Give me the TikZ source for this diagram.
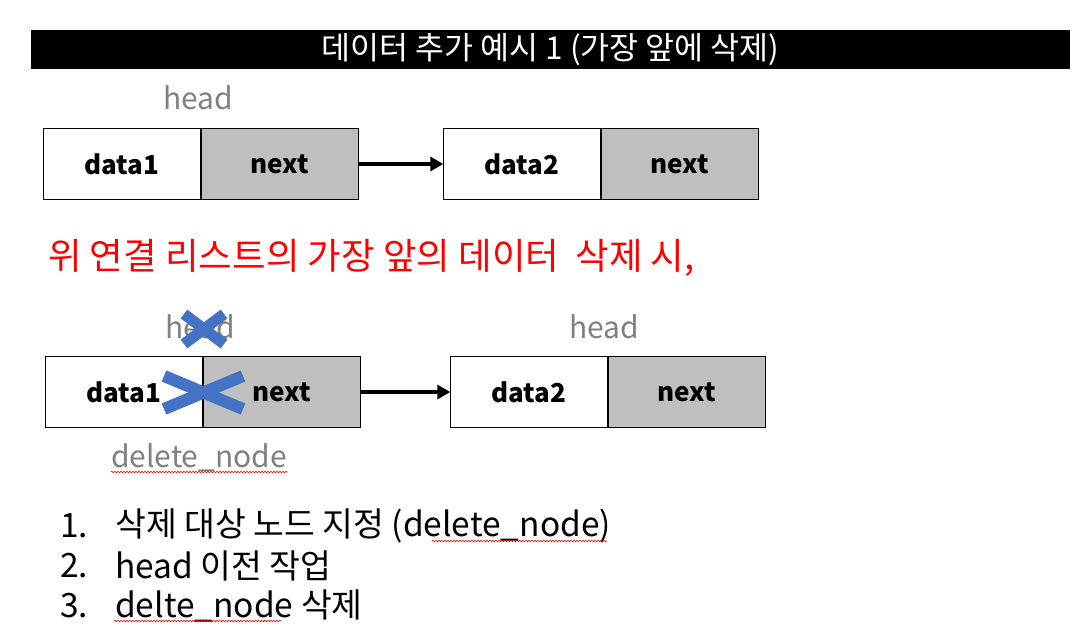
\documentclass[tikz,border=0pt]{standalone}
\usepackage{fontspec}
\setmainfont{Noto Sans CJK KR}
\usetikzlibrary{positioning,arrows.meta,decorations.pathmorphing}
\definecolor{cellgray}{HTML}{BFBFBF}
\definecolor{labelgray}{HTML}{808080}
\definecolor{crossblue}{HTML}{4472C4}

\begin{document}
\begin{tikzpicture}[x=1pt,y=-1pt,
    datacell/.style={draw,thin,fill=white,minimum width=157pt,minimum height=71pt,font=\fontsize{26}{30}\selectfont\bfseries},
    nextcell/.style={datacell,fill=cellgray},
    ptr/.style={line width=3.5pt,-{Triangle[length=13pt,width=14pt]}},
    tag/.style={text=labelgray,font=\fontsize{30}{34}\selectfont},
    cross/.style={crossblue,line width=#1},
    squiggle/.style={red,line width=0.6pt,decorate,decoration={snake,amplitude=0.8pt,segment length=3pt}},
    step item/.style={anchor=west,inner sep=0pt,font=\fontsize{33.5}{37}\selectfont}]
    \useasboundingbox (0,0) rectangle (1089,630);

    % title
    \node[fill=black,minimum width=1039pt,minimum height=39pt,inner sep=0pt,text=white,font=\fontsize{31.5}{34}\selectfont] (title) at (550.5,49.5) {데이터 추가 예시 1 (가장 앞에 삭제)};

    % before
    \node[datacell] (d1) at (122,164) {data1};
    \node[nextcell,right=0pt of d1] (n1) {next};
    \node[datacell] (d2) at (522,164) {data2};
    \node[nextcell,right=0pt of d2] (n2) {next};
    \node[tag] (h1) at (198,98) {head};
    \draw[ptr] (n1.east) -- (d2.west);

    \node[anchor=west,inner sep=0pt,text=red,font=\fontsize{36.5}{40}\selectfont] (msg) at (48,258) {위 연결 리스트의 가장 앞의 데이터\ \ 삭제 시,};

    % after
    \node[datacell] (d3) at (124,392) {data1};
    \node[nextcell,right=0pt of d3] (n3) {next};
    \node[datacell] (d4) at (529,392) {data2};
    \node[nextcell,right=0pt of d4] (n4) {next};
    \draw[ptr] (n3.east) -- (d4.west);
    \node[tag] (h2) at (200,327) {head};
    \node[tag] (h3) at (604,327) {head};
    \node[tag] (del) at (199,458) {delete\_node};
    \draw[squiggle] (111,472) -- (288,472);

    % crosses
    \draw[cross=11pt] (184,314) -- (224,344);
    \draw[cross=11pt] (184,344) -- (224,314);
    \draw[cross=12pt] (164,376) -- (243,409);
    \draw[cross=12pt] (164,409) -- (243,376);

    % steps
    \node[step item] (s1n) at (60,526) {1.};
    \node[step item] (s1) at (115,526) {삭제 대상 노드 지정 (delete\_node)};
    \node[step item] (s2n) at (60,566) {2.};
    \node[step item] (s2) at (115,566) {head 이전 작업};
    \node[step item] (s3n) at (60,606) {3.};
    \node[step item] (s3) at (115,606) {delte\_node 삭제};
    \draw[squiggle] (432,541) -- (607,541);
    \draw[squiggle] (114,621) -- (281,621);
\end{tikzpicture}
\end{document}
